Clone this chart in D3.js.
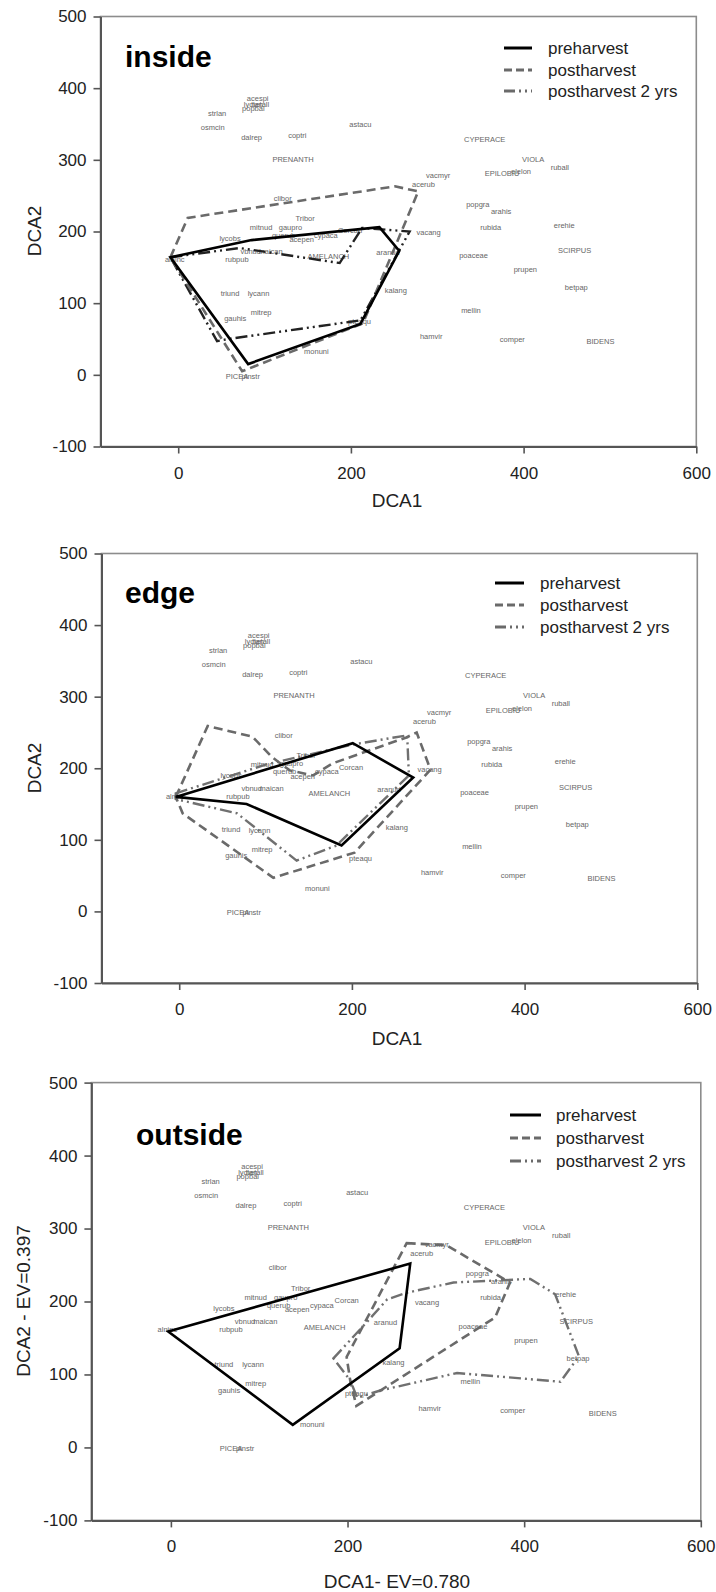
<!DOCTYPE html>
<html><head><meta charset="utf-8">
<script src="https://cdn.jsdelivr.net/npm/d3@7/dist/d3.min.js"></script>
<style>body{margin:0;background:#fff} svg{display:block} text{font-family:"Liberation Sans",Arial,sans-serif}</style>
</head><body>
<svg id="c" width="716" height="1592"></svg>
<script>
// ---- data ----
const xTicks = [0, 200, 400, 600];
const yTicks = [-100, 0, 100, 200, 300, 400, 500];
const seriesNames = ["preharvest", "postharvest", "postharvest 2 yrs"];
const panelNames = ["inside", "edge", "outside"];
const xTitles = ["DCA1", "DCA1", "DCA1- EV=0.780"];
const yTitles = ["DCA2", "DCA2", "DCA2 - EV=0.397"];

const speciesNames = ["acespi","lyclan","betall","popbal","strlan","osmcin","dalrep","coptri","astacu","PRENANTH",
  "CYPERACE","VIOLA","ruball","EPILOBIU","elelon","vacmyr","acerub","clibor","Tribor","mitnud",
  "gaupro","querub","acepen","cypaca","Corcan","lycobs","vbnud","maican","rubpub","alninc",
  "AMELANCH","aranud","vacang","popgra","arahis","rubida","erehie","SCIRPUS","poaceae","prupen",
  "betpap","triund","lycann","kalang","mitrep","gauhis","mellin","pteaqu","hamvir","comper",
  "BIDENS","monuni","PICEA","pinstr"];
const speciesDCA1 = [92,87,95,87,45,40,85,138,211,133,
  355,411,442,375,397,301,284,121,147,96,
  130,122,143,171,199,60,84,107,68,-4,
  174,243,290,347,374,362,447,459,342,402,
  461,60,93,252,96,66,339,210,293,387,
  489,160,68,84];
const speciesDCA2 = [385,377,377,371,365,345,331,334,349,301,
  329,301,290,281,284,278,266,246,218,205,
  206,195,189,195,201,190,172,172,161,161,
  165,171,198,238,228,205,209,173,166,147,
  122,114,113,117,87,78,90,74,54,50,
  46,32,-2,-2];

// hull vertices [DCA1, DCA2]
const insidePre   = [[-9,164],[85,188],[233,206],[256,173],[211,71],[81,15]];
const insidePost  = [[-9,164],[11,219],[251,263],[278,256],[214,72],[74,5]];
const insidePost2 = [[-9,164],[71,177],[187,156],[213,205],[268,200],[211,76],[58,50],[45,47]];

const edgePre   = [[-4,160],[201,235],[271,187],[188,92],[78,150]];
const edgePost  = [[-4,160],[33,259],[85,244],[107,216],[128,197],[155,190],[178,207],[263,243],[275,250],[291,198],[203,82],[109,47],[4,137]];
const edgePost2 = [[-4,165],[100,205],[200,233],[264,246],[266,190],[182,92],[136,71],[67,137],[-4,157]];

const outsidePre   = [[-3,159],[271,252],[259,136],[138,31]];
const outsidePost  = [[267,280],[312,277],[384,226],[367,178],[210,57],[203,92],[199,124]];
const outsidePost2 = [[184,122],[222,172],[245,203],[267,212],[320,226],[407,231],[435,210],[462,125],[441,90],[324,102],[237,78],[211,68],[203,92]];

const hulls = [[insidePre, insidePost, insidePost2],[edgePre, edgePost, edgePost2],[outsidePre, outsidePost, outsidePost2]];

// ---- layout ----
const layout = [
  {l:100.5,r:696.3,t:16.5,b:446.5, xt:[397,500], yt:[34,231], lab:[125,56], lgL:504, lgR:532, lgT:548, lgY:[48,70,91]},
  {l:101.5,r:697.3,t:553.5,b:983, xt:[397,1038], yt:[34,768], lab:[125,592], lgL:495, lgR:524, lgT:540, lgY:[583,605,627]},
  {l:91.4,r:700.8,t:1082.6,b:1520.4, xt:[397,1581], yt:[23,1301], lab:[136,1134], lgL:510, lgR:541, lgT:556, lgY:[1115,1138,1161]}
];
const styles = [
  {stroke:"#000", w:2.6, dash:null},
  {stroke:"#6a6a6a", w:2.6, dash:"9,5"},
  {stroke:"#6a6a6a", w:2.4, dash:"12,4,2,4,2,4"}
];
const post2Colors = ["#222", "#707070", "#707070"];

const svg = d3.select("#c");

layout.forEach((L, pi) => {
  const x = d3.scaleLinear().domain([-90, 600]).range([L.l, L.r]);
  const y = d3.scaleLinear().domain([-100, 500]).range([L.b, L.t]);
  const g = svg.append("g");

  g.append("rect").attr("x", L.l).attr("y", L.t).attr("width", L.r - L.l).attr("height", L.b - L.t)
    .attr("fill", "none").attr("stroke", "#8c8c8c").attr("stroke-width", 1.6);

  const fmt = d => String(d);
  const ax = g.append("g").attr("transform", `translate(0,${L.b})`)
    .call(d3.axisBottom(x).tickValues(xTicks).tickFormat(fmt).tickSize(7).tickPadding(13).tickSizeOuter(0));
  const ay = g.append("g").attr("transform", `translate(${L.l},0)`)
    .call(d3.axisLeft(y).tickValues(yTicks).tickFormat(fmt).tickSize(7).tickPadding(7).tickSizeOuter(0));
  [ax, ay].forEach(a => {
    a.select(".domain").attr("stroke", "#555").attr("stroke-width", 2);
    a.selectAll(".tick line").attr("stroke", "#555").attr("stroke-width", 1.6);
    a.selectAll(".tick text").attr("fill", "#222").style("font-size", "17px").style("font-family", '"Liberation Sans",Arial,sans-serif');
  });

  g.append("text").attr("x", L.xt[0]).attr("y", L.xt[1]).attr("text-anchor", "middle")
    .attr("dominant-baseline", "central").attr("fill", "#222").style("font-size", "19px").text(xTitles[pi]);
  g.append("text").attr("transform", `translate(${L.yt[0]},${L.yt[1]}) rotate(-90)`).attr("text-anchor", "middle")
    .attr("dominant-baseline", "central").attr("fill", "#222").style("font-size", "19px").text(yTitles[pi]);

  // species labels
  g.append("g").selectAll("text").data(speciesNames).join("text")
    .attr("x", (d, i) => x(speciesDCA1[i])).attr("y", (d, i) => y(speciesDCA2[i]))
    .attr("text-anchor", "middle").attr("dominant-baseline", "central")
    .attr("fill", "#666").style("font-size", "7.5px").text(d => d);

  // hulls
  const line = d3.line().x(d => x(d[0])).y(d => y(d[1])).curve(d3.curveLinearClosed);
  [2, 1, 0].forEach(si => {
    const s = styles[si];
    g.append("path").datum(hulls[pi][si]).attr("d", line).attr("fill", "none")
      .attr("stroke", si === 2 ? post2Colors[pi] : s.stroke).attr("stroke-width", s.w)
      .attr("stroke-linejoin", "miter").attr("stroke-dasharray", s.dash);
  });

  // panel label
  g.append("text").attr("x", L.lab[0]).attr("y", L.lab[1]).attr("dominant-baseline", "central")
    .attr("fill", "#000").style("font-size", "30px").style("font-weight", "bold").text(panelNames[pi]);

  // legend
  seriesNames.forEach((n, si) => {
    const s = styles[si];
    g.append("line").attr("x1", L.lgL).attr("x2", L.lgR).attr("y1", L.lgY[si]).attr("y2", L.lgY[si])
      .attr("stroke", s.stroke).attr("stroke-width", 3).attr("stroke-dasharray", si === 1 ? "8,4" : (si === 2 ? "11,4,2,4,2,4" : null));
    g.append("text").attr("x", L.lgT).attr("y", L.lgY[si]).attr("dominant-baseline", "central")
      .attr("fill", "#222").style("font-size", "17px").text(n);
  });
});
</script>
</body></html>
